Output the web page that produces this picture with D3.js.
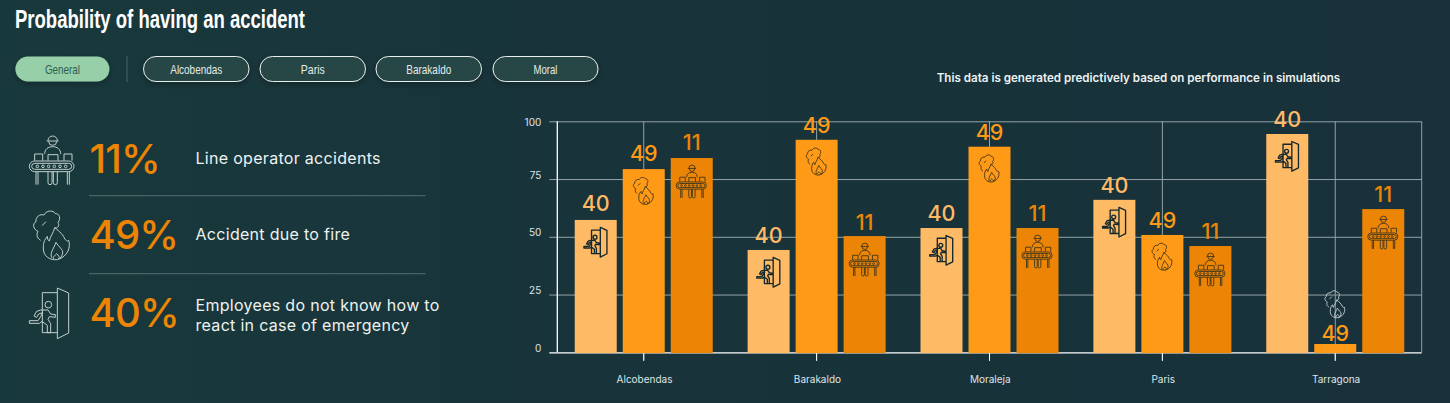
<!DOCTYPE html>
<html><head><meta charset="utf-8">
<script src="https://cdn.jsdelivr.net/npm/d3@7"></script>
<style>
html,body{margin:0;padding:0;background:#18333a;overflow:hidden}
svg{display:block}
text{font-family:Inter,"Noto Sans",sans-serif}
.narrow{font-family:"Liberation Sans Narrow","Liberation Sans",sans-serif}
</style></head><body>
<script>
const categories = ["Alcobendas","Barakaldo","Moraleja","Paris","Tarragona"];
const emergencyValues = [57.3,44.3,53.8,66,94.5];
const fireValues = [79.3,92,89,50.8,3.6];
const operatorValues = [84.1,50.3,53.8,46,62];
const seriesLabels = ["40","49","11"];
const seriesKeys = ["exit","fire","operator"];
const seriesColors = ["#ffba66","#ff9a17","#ec8505"];
const yTicks = [0,25,50,75,100];
const filters = ["General","Alcobendas","Paris","Barakaldo","Moral"];
const statValues = ["11%","49%","40%"];
const statKeys = ["operator","fire","exit"];
const statTexts = [["Line operator accidents"],["Accident due to fire"],["Employees do not know how to","react in case of emergency"]];

const iconPaths = {
  operator:"M84 32a14 14 0 0 1 28 0M80 33h36M86 34a12 12 0 0 0 24 0M74 72c0-14 10-22 24-22s24 8 24 22M44 92V72h24v20M132 92V72h24v20M84 92V74h30v18M44 93H146a16 16 0 0 1 0 32H44a16 16 0 0 1 0-32zM44 100H146a9 9 0 0 1 0 18H44a9 9 0 0 1 0-18zM48 109a4 4 0 1 0 8 0a4 4 0 1 0-8 0M65 109a4 4 0 1 0 8 0a4 4 0 1 0-8 0M82 109a4 4 0 1 0 8 0a4 4 0 1 0-8 0M99 109a4 4 0 1 0 8 0a4 4 0 1 0-8 0M116 109a4 4 0 1 0 8 0a4 4 0 1 0-8 0M133 109a4 4 0 1 0 8 0a4 4 0 1 0-8 0M48 125V164M54 125V164M142 125V164M148 125V164M84 125V158a6 6 0 0 0 12 0V125M100 125V158a6 6 0 0 0 12 0V125",
  fire:"M62 112C48 105 50 90 54 85C40 80 36 62 48 56C46 42 60 32 72 36C78 22 100 20 106 32C118 30 124 48 114 58C120 68 112 78 104 74C118 84 132 98 134 108C140 112 144 118 146 112C152 130 146 160 112 170C88 172 70 160 70 135C70 120 72 112 82 100C82 108 84 112 88 114C90 100 100 92 104 74M96 165C88 150 100 140 108 118C116 132 130 140 128 150C126 160 122 165 118 167M102 168c-4-6 2-10 8-16c6 6 10 10 6 16M66 68L78 56",
  exit:"M112 18L146 33V153L112 170ZM112 32H67V152H112M75 68a10 10 0 1 0 20 0a10 10 0 1 0-20 0M62 84H84L92 96L106 98V106L88 104L84 112L92 125V152H82V130L66 118L58 124H28V116H54L62 104L68 92L56 96L50 106L42 102L50 88Z"
};
const iconAnchor = {operator:[94,20],fire:[93,20],exit:[85,18]};
const iconChartScale = {operator:0.225,fire:0.185,exit:0.195};
const iconHeight = {operator:31,fire:28,exit:28};
const iconInk = {operator:"#4a3a1c",fire:"#4a3a1c",exit:"#13282e"};
const iconWeight = {operator:0.95,fire:0.95,exit:1.35};

const W=1450,H=403;
const svg=d3.select("body").append("svg").attr("width",W).attr("height",H);
const defs=svg.append("defs");
const grad=defs.append("linearGradient").attr("id","bg").attr("x1",0).attr("y1",0).attr("x2",1).attr("y2",0);
grad.append("stop").attr("offset",0).attr("stop-color","#18393c");
grad.append("stop").attr("offset",0.45).attr("stop-color","#18333a");
grad.append("stop").attr("offset",1).attr("stop-color","#18313a");
const sh=defs.append("filter").attr("id","sh").attr("x","-20%").attr("y","-30%").attr("width","140%").attr("height","180%");
sh.append("feDropShadow").attr("dx",0).attr("dy",2).attr("stdDeviation",3).attr("flood-color","#000").attr("flood-opacity",.3);
svg.append("rect").attr("width",W).attr("height",H).attr("fill","url(#bg)");

function icon(parent,key,x,y,s,color,sw){
  parent.append("path").attr("d",iconPaths[key]).attr("transform",`translate(${x},${y}) scale(${s})`)
    .attr("fill","none").attr("stroke",color).attr("stroke-width",sw).attr("stroke-linejoin","round")
    .attr("vector-effect","non-scaling-stroke");
}

// header
svg.append("text").attr("class","narrow").attr("x",15).attr("y",28).attr("fill","#fff")
  .attr("font-size",25).attr("font-weight",700).attr("textLength",290).attr("lengthAdjust","spacingAndGlyphs")
  .text("Probability of having an accident");

const btnX=[15.4,143.5,260,376,493], btnW=[94,105.5,105.5,105.5,105];
const btn=svg.append("g").selectAll("g").data(filters).join("g");
btn.append("rect").attr("x",(d,i)=>btnX[i]).attr("y",56.5).attr("width",(d,i)=>btnW[i]).attr("height",25).attr("rx",12.5)
  .attr("fill",(d,i)=>i?"#264645":"#97cfa9").attr("stroke",(d,i)=>i?"#e8eeec":"none").attr("stroke-width",1).attr("filter","url(#sh)");
const btnTextW=[35,52,24,45,24];
btn.append("text").attr("class","narrow").attr("x",(d,i)=>btnX[i]+btnW[i]/2).attr("y",74).attr("text-anchor","middle")
  .attr("font-size",13).attr("fill",(d,i)=>i?"#e4ebe9":"#2a5f52")
  .attr("textLength",(d,i)=>btnTextW[i]).attr("lengthAdjust","spacingAndGlyphs").text(d=>d);
svg.append("line").attr("x1",127).attr("x2",127).attr("y1",56).attr("y2",82).attr("stroke","#4a6366");

svg.append("text").attr("x",936.7).attr("y",82).attr("fill","#eef2f2").attr("font-size",11.6).attr("font-weight",600)
  .text("This data is generated predictively based on performance in simulations");

// left stats
const statBase=[172.7,249.3,327.3], statIconY=[130,203,282], textBase=[[164.3],[240],[310.7,330.7]];
statKeys.forEach((k,i)=>{
  icon(svg,k,20,statIconY[i],1/3,"#c3cfcd",1);
  svg.append("text").attr("x",89.5).attr("y",statBase[i]).attr("fill","#ec8505").attr("font-size",40).attr("font-weight",550).attr("letter-spacing",-0.8).text(statValues[i]);
  statTexts[i].forEach((t,j)=>svg.append("text").attr("x",195.5).attr("y",textBase[i][j]).attr("fill","#eef2f1").attr("font-size",16).attr("letter-spacing",0.3).text(t));
});
[195.7,273.7].forEach(y=>svg.append("line").attr("x1",89).attr("x2",425.5).attr("y1",y).attr("y2",y).attr("stroke","#4a6366").attr("stroke-width",1.2));

// chart
const left=557.3,right=1421.7,top0=121.3,base=352.3;
const y=d3.scaleLinear().domain([0,100]).range([base,top0]);
const x0=d3.scaleBand().domain(categories).range([left,right]);
const x1=d3.scaleBand().domain(seriesKeys).range([-69,69]).paddingInner(0.125);
const gridColor="#93a3a6";

const gy=svg.append("g").attr("transform",`translate(${left},0)`)
  .call(d3.axisLeft(y).tickValues(yTicks).tickSize(-(right-left)).tickPadding(0));
gy.select(".domain").remove();
gy.selectAll(".tick line").attr("x1",-8).attr("stroke",d=>d===0?"#fff":gridColor).attr("stroke-width",d=>d===0?1.3:1);
gy.selectAll(".tick text").attr("x",-16).attr("dy",0).attr("y",0).attr("text-anchor","end")
  .attr("font-size",10).attr("font-family","Inter").attr("fill","#dfe5e6")
  .attr("transform",d=>`translate(0,${Math.max(y(d)-5,121)-y(d)})`).attr("dominant-baseline","central");

const gx=svg.append("g").attr("transform",`translate(0,${base})`)
  .call(d3.axisBottom(x0).tickSizeOuter(0).tickSize(0));
gx.select(".domain").remove();
gx.selectAll(".tick line").attr("y1",-(base-top0)).attr("y2",8.5).attr("stroke",gridColor);
gx.selectAll(".tick").append("line").attr("y1",0).attr("y2",8.5).attr("stroke","#fff");
gx.selectAll(".tick text").attr("x",0.8).attr("y",31).attr("dy",0).attr("font-size",10).attr("font-family","Inter").attr("fill","#dfe5e6");

svg.append("line").attr("x1",left).attr("x2",left).attr("y1",top0).attr("y2",base).attr("stroke","#fff").attr("stroke-width",1.3);
svg.append("line").attr("x1",right).attr("x2",right).attr("y1",top0).attr("y2",base).attr("stroke",gridColor);

const allValues=[emergencyValues,fireValues,operatorValues];
const rows=categories.flatMap((c,i)=>seriesKeys.map((k,j)=>({c,k,j,v:allValues[j][i]})));
const gBars=svg.append("g");
const barX=d=>x0(d.c)+x0.bandwidth()/2+x1(d.k);
gBars.selectAll("rect").data(rows).join("rect")
  .attr("x",barX).attr("y",d=>y(d.v)).attr("width",x1.bandwidth()).attr("height",d=>y(0)-y(d.v)+0.8)
  .attr("fill",d=>seriesColors[d.j]);
// labels sit closer to short bars and a little higher over the first group
const labelGap=d=>y(0)-y(d.v)<20?3:(d.c===categories[0]?8.5:6.6);
const labelY=d=>y(d.v)-labelGap(d);
gBars.selectAll("text").data(rows).join("text")
  .attr("x",d=>barX(d)+x1.bandwidth()/2).attr("y",labelY).attr("text-anchor","middle")
  .attr("font-size",21.5).attr("font-weight",500).attr("fill",d=>seriesColors[d.j]).text(d=>seriesLabels[d.j]);
rows.forEach(d=>{
  const s=iconChartScale[d.k],a=iconAnchor[d.k];
  const cx=barX(d)+x1.bandwidth()/2-0.7;
  const fits=y(0)-y(d.v)>iconHeight[d.k]+8;
  const top=fits?y(d.v)+7.5:labelY(d)-51;
  icon(gBars,d.k,cx-a[0]*s,top-a[1]*s,s,fits?iconInk[d.k]:"#c9d2d2",fits?iconWeight[d.k]:0.9);
});
</script>
</body></html>
